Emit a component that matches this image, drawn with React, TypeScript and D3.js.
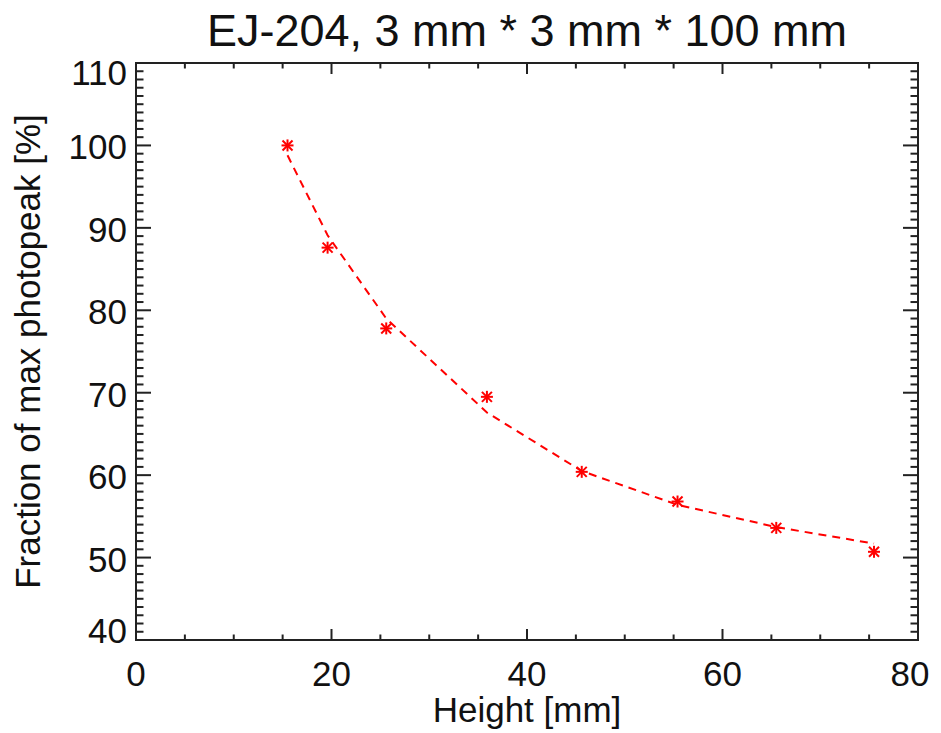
import React from "react";
import * as d3 from "d3";

// measured heights [mm] and photopeak fraction [%]
const heights = [15.5, 19.6, 25.6, 35.9, 45.6, 55.4, 65.5, 75.5];
const fraction = [100, 87.6, 77.8, 69.5, 60.4, 56.8, 53.6, 50.7];
// fitted curve evaluated at the same heights
const fitValues = [98.8, 89.1, 79.0, 67.6, 60.5, 56.4, 53.7, 51.7];

const xMajor = [0, 20, 40, 60, 80];
const yMajor = [40, 50, 60, 70, 80, 90, 100, 110];

const title = "EJ-204, 3 mm * 3 mm * 100 mm";
const xTitle = "Height [mm]";
const yTitle = "Fraction of max photopeak [%]";

const W = 941;
const H = 733;
const left = 136;
const right = 918;
const top = 63;
const bottom = 640;
const font = "'Liberation Sans', Arial, Helvetica, sans-serif";
const axisColor = "#222";

const App = () => {
  const x = d3.scaleLinear().domain([0, 80]).range([left, right]);
  const y = d3.scaleLinear().domain([40, 110]).range([bottom, top]);

  const xMinor = d3.range(0, 80.01, 5).filter((v) => !xMajor.includes(v));
  const yMinor = d3.range(40, 110.01, 1).filter((v) => !yMajor.includes(v));

  const pts = heights.map((h, i) => ({ h, v: fraction[i], f: fitValues[i] }));

  const fitLine = d3
    .line<{ h: number; f: number }>()
    .x((d) => x(d.h))
    .y((d) => y(d.f));

  const xMajLen = 11;
  const xMinLen = 5.5;
  const yMajLen = 15;
  const yMinLen = 7.5;

  // IDL nudges the end labels inward
  const yLabelShift = (t: number) => (t === 110 ? 9 : t === 40 ? -10 : 1.5);
  const xLabelShift = (t: number) => (t === 80 ? -8 : 0);

  return (
    <div style={{ position: "absolute", left: 0, top: 0 }}>
      <svg width={W} height={H} style={{ display: "block", background: "#fff" }}>
        <rect width={W} height={H} fill="#fff" />

        {/* Title */}
        <text
          x={(left + right) / 2}
          y={46}
          textAnchor="middle"
          fontSize={45}
          fontFamily={font}
          fill="#111"
        >
          {title}
        </text>

        {/* Ticks: bottom & top */}
        {xMajor.map((t) => (
          <g key={`xM-${t}`}>
            <line x1={x(t)} x2={x(t)} y1={bottom} y2={bottom - xMajLen} stroke={axisColor} strokeWidth={2} />
            <line x1={x(t)} x2={x(t)} y1={top} y2={top + xMajLen} stroke={axisColor} strokeWidth={2} />
            <text
              x={x(t) + xLabelShift(t)}
              y={686}
              textAnchor="middle"
              fontSize={35}
              fontFamily={font}
              fill="#111"
            >
              {t}
            </text>
          </g>
        ))}
        {xMinor.map((t) => (
          <g key={`xm-${t}`}>
            <line x1={x(t)} x2={x(t)} y1={bottom} y2={bottom - xMinLen} stroke={axisColor} strokeWidth={2} />
            <line x1={x(t)} x2={x(t)} y1={top} y2={top + xMinLen} stroke={axisColor} strokeWidth={2} />
          </g>
        ))}

        {/* Ticks: left & right */}
        {yMajor.map((t) => (
          <g key={`yM-${t}`}>
            <line x1={left} x2={left + yMajLen} y1={y(t)} y2={y(t)} stroke={axisColor} strokeWidth={2} />
            <line x1={right} x2={right - yMajLen} y1={y(t)} y2={y(t)} stroke={axisColor} strokeWidth={2} />
            <text
              x={127}
              y={y(t) + yLabelShift(t) + 12.5}
              textAnchor="end"
              fontSize={35}
              fontFamily={font}
              fill="#111"
            >
              {t}
            </text>
          </g>
        ))}
        {yMinor.map((t) => (
          <g key={`ym-${t}`}>
            <line x1={left} x2={left + yMinLen} y1={y(t)} y2={y(t)} stroke={axisColor} strokeWidth={2} />
            <line x1={right} x2={right - yMinLen} y1={y(t)} y2={y(t)} stroke={axisColor} strokeWidth={2} />
          </g>
        ))}

        {/* Frame */}
        <rect
          x={left}
          y={top}
          width={right - left}
          height={bottom - top}
          fill="none"
          stroke={axisColor}
          strokeWidth={2}
        />

        {/* Fit curve */}
        <path
          d={fitLine(pts) || ""}
          fill="none"
          stroke="#ff0000"
          strokeWidth={2}
          strokeDasharray="8,6"
        />

        {/* Asterisk markers */}
        {pts.map((d, i) => {
          const cx = x(d.h);
          const cy = y(d.v);
          const r = 6;
          const q = 5;
          return (
            <g key={`pt-${i}`} stroke="#ff0000" strokeWidth={2}>
              <line x1={cx - r} x2={cx + r} y1={cy} y2={cy} />
              <line x1={cx} x2={cx} y1={cy - r} y2={cy + r} />
              <line x1={cx - q} x2={cx + q} y1={cy - q} y2={cy + q} />
              <line x1={cx - q} x2={cx + q} y1={cy + q} y2={cy - q} />
            </g>
          );
        })}

        {/* Axis titles */}
        <text
          x={(left + right) / 2}
          y={722}
          textAnchor="middle"
          fontSize={35}
          fontFamily={font}
          fill="#111"
        >
          {xTitle}
        </text>
        <text
          transform={`translate(40, ${(top + bottom) / 2}) rotate(-90)`}
          textAnchor="middle"
          fontSize={35}
          fontFamily={font}
          fill="#111"
        >
          {yTitle}
        </text>
      </svg>
    </div>
  );
};

export default App;
